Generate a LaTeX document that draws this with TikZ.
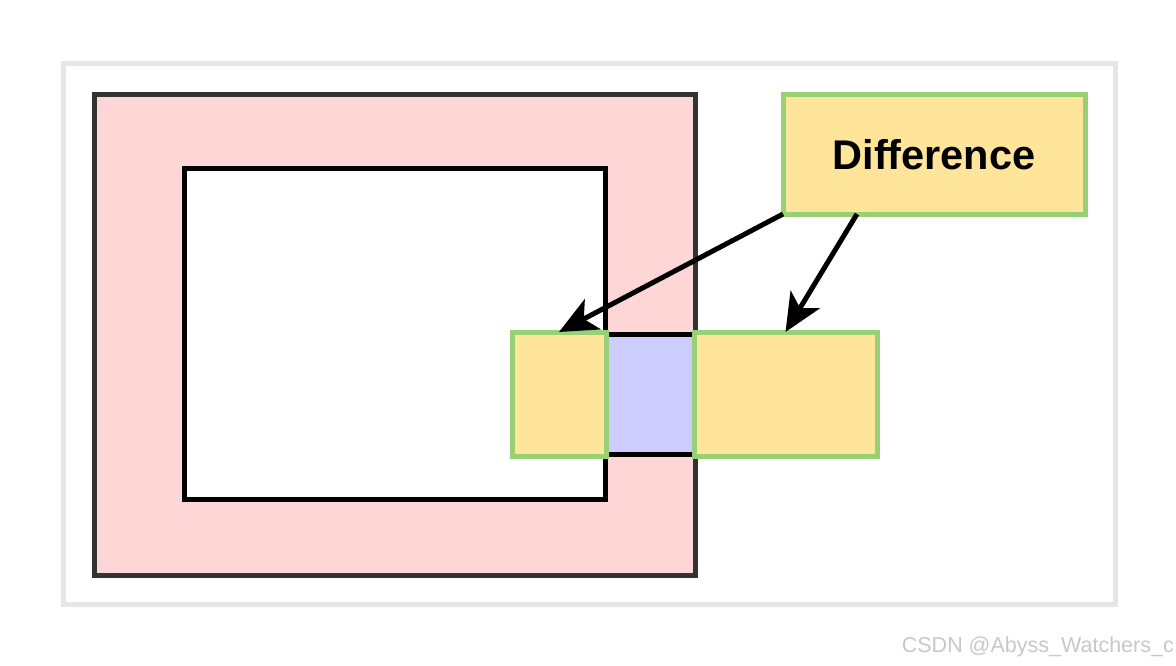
\documentclass[tikz,border=0pt]{standalone}
\usepackage{fontspec}
\setmainfont[Ligatures=CommonOff]{Liberation Sans}
\usepackage{xcolor}
\usetikzlibrary{positioning,arrows.meta,calc}
\definecolor{framegray}{HTML}{E6E6E6}
\definecolor{ringpink}{HTML}{FFD6D6}
\definecolor{ringedge}{HTML}{333333}
\definecolor{diffyellow}{HTML}{FFE599}
\definecolor{diffgreen}{HTML}{97D077}
\definecolor{overlapblue}{HTML}{CCCCFF}
\definecolor{markgray}{HTML}{C8C8C8}

\begin{document}
\begin{tikzpicture}[
  x=1pt, y=-1pt,
  box/.style={rectangle, inner sep=0pt, outer sep=0pt, line width=5pt},
  diffbox/.style={box, draw=diffgreen, fill=diffyellow},
  arr/.style={-{Stealth[length=38pt,width=34pt,inset=10pt]}, line width=5pt, draw=black}
]
\useasboundingbox (0,0) rectangle (1176,666);
% frame
\node[box, draw=framegray, minimum width=1052pt, minimum height=540pt] (frame) at (589,334) {};
% outer ring and hole
\node[box, draw=ringedge, fill=ringpink, minimum width=601pt, minimum height=480pt] (ring) at (394.5,335) {};
\node[box, draw=black, fill=white, minimum width=421pt, minimum height=330pt] (hole) at (394.5,334) {};
% overlap and difference parts
\node[box, draw=black, fill=overlapblue, minimum width=88pt, minimum height=120pt] (mid) at (650,394) {};
\node[diffbox, minimum width=94pt, minimum height=124pt] (leftY) at (559,394) {};
\node[diffbox, minimum width=183pt, minimum height=124pt] (rightY) at (785.5,394) {};
% label
\node[diffbox, minimum width=302pt, minimum height=119pt, font=\bfseries\fontsize{41.5}{46}\selectfont] (diff) at (934,154.5) {Difference};
\coordinate (diffq) at ($(diff.south west)!0.245!(diff.south east)$);
\draw[arr] (diff.south west) -- (leftY.north);
\draw[arr] (diffq) -- (rightY.north);
% watermark
\node[anchor=east, inner sep=0pt, text=markgray, font=\fontsize{21.5}{26}\selectfont] (mark) at (1174,647) {CSDN @Abyss\_Watchers\_c};
\end{tikzpicture}
\end{document}
